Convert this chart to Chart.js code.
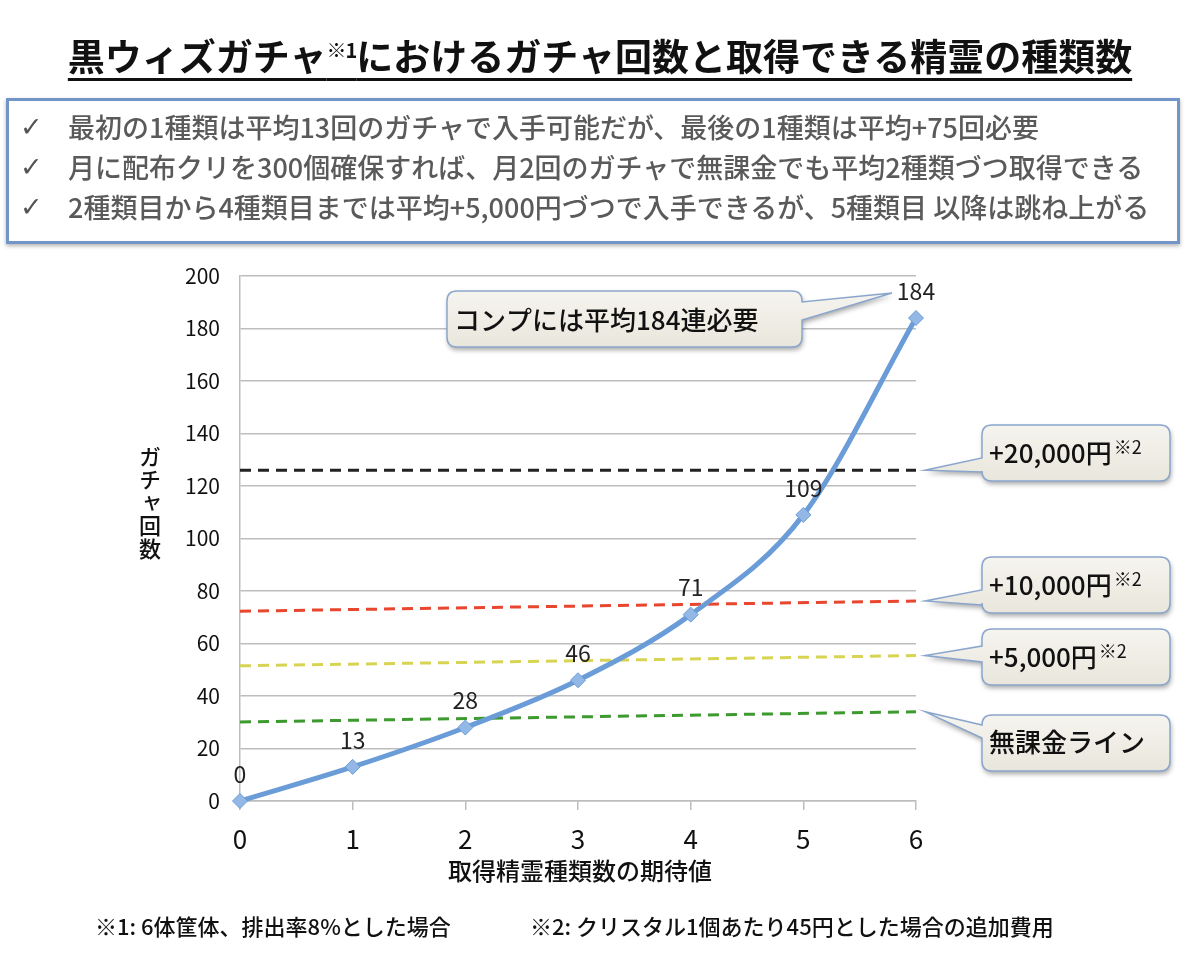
<!DOCTYPE html>
<html lang="ja">
<head>
<meta charset="utf-8">
<title>黒ウィズガチャ</title>
<script src="https://cdn.jsdelivr.net/npm/chart.js@4.4.1/dist/chart.umd.min.js"></script>
<style>
  html, body { margin: 0; padding: 0; background: #fff; }
  body {
    position: relative;
    width: 1200px;
    height: 966px;
    overflow: hidden;
    font-family: "Noto Sans CJK JP", "Noto Sans", sans-serif;
    color: #111;
  }
  #chart-wrap { position: absolute; left: 0; top: 0; width: 1200px; height: 966px; }
  .title {
    position: absolute;
    left: 0;
    top: 37px;
    width: 1200px;
    text-align: center;
    font-size: 37px;
    line-height: 37px;
    font-weight: 700;
    text-decoration: underline;
    text-decoration-thickness: 3px;
    text-underline-offset: 7px;
  }
  .title sup { font-size: 20px; vertical-align: 13px; line-height: 0; letter-spacing: -1px; }
  .summary {
    position: absolute;
    left: 6px;
    top: 98px;
    width: 1168px;
    height: 134px;
    border: 3px solid #7195c7;
    box-shadow: 0 2px 4px rgba(0, 0, 0, 0.3);
    padding-top: 6px;
    background: #fff;
  }
  .summary div {
    display: flex;
    height: 40px;
    line-height: 40px;
    font-size: 27px;
    font-weight: 500;
    color: #5a5a5a;
    white-space: nowrap;
  }
  .summary .check { width: 48px; padding-left: 11px; font-family: "DejaVu Sans", sans-serif; font-size: 27px; color: #555; }
  .axis-title-x {
    position: absolute;
    left: 380px;
    width: 400px;
    top: 857px;
    text-align: center;
    font-size: 24px;
    line-height: 26px;
    font-weight: 500;
  }
  .axis-title-y {
    position: absolute;
    left: 138px;
    top: 446px;
    writing-mode: vertical-rl;
    text-orientation: upright;
    font-size: 22px;
    line-height: 24px;
    font-weight: 500;
    letter-spacing: 1px;
  }
  .note { position: absolute; top: 913px; font-size: 22px; line-height: 24px; font-weight: 500; }
</style>
</head>
<body>
  <div id="chart-wrap"><canvas id="gacha-chart" width="1200" height="966"></canvas></div>

  <div class="title">黒ウィズガチャ<sup>※1</sup>におけるガチャ回数と取得できる精霊の種類数</div>

  <div class="summary">
    <div><span class="check">✓</span><span>最初の1種類は平均13回のガチャで入手可能だが、最後の1種類は平均+75回必要</span></div>
    <div><span class="check">✓</span><span>月に配布クリを300個確保すれば、月2回のガチャで無課金でも平均2種類づつ取得できる</span></div>
    <div><span class="check">✓</span><span>2種類目から4種類目までは平均+5,000円づつで入手できるが、5種類目 以降は跳ね上がる</span></div>
  </div>

  <div class="axis-title-y">ガチャ回数</div>
  <div class="axis-title-x">取得精霊種類数の期待値</div>

  <div class="note" style="left: 95px;">※1: 6体筐体、排出率8%とした場合</div>
  <div class="note" style="left: 530px;">※2: クリスタル1個あたり45円とした場合の追加費用</div>

<script>
const SPIRIT_COUNTS = [0, 1, 2, 3, 4, 5, 6];
const GACHA_COUNTS = [0, 13, 28, 46, 71, 109, 184];

// budget lines: value at x=0 and at x=6
const BUDGET_LABELS = ['+20,000円', '+10,000円', '+5,000円', '無課金ライン'];
const BUDGET_NOTE = ['※2', '※2', '※2', ''];
const BUDGET_START = [126, 72.3, 51.5, 30.1];
const BUDGET_END = [126, 76.2, 55.4, 34];
const BUDGET_COLORS = ['#222222', '#e8462e', '#d8d453', '#3d9a2e'];

const Y_MIN = 0;
const Y_MAX = 200;
const Y_STEP = 20;

const COMPLETE_TEXT = 'コンプには平均184連必要';

const FONT = '"Noto Sans CJK JP", "Noto Sans", sans-serif';
const GRID_COLOR = '#bdbdbd';

const mainData = SPIRIT_COUNTS.map((x, i) => ({ x, y: GACHA_COUNTS[i] }));
const lastX = SPIRIT_COUNTS[SPIRIT_COUNTS.length - 1];

const budgetDatasets = BUDGET_LABELS.map((label, i) => ({
  label,
  data: [
    { x: SPIRIT_COUNTS[0], y: BUDGET_START[i] },
    { x: lastX, y: BUDGET_END[i] },
  ],
  borderColor: BUDGET_COLORS[i],
  borderWidth: 3,
  borderDash: [11, 7],
  pointRadius: 0,
  tension: 0,
  order: 2,
}));

// callout boxes, the tip follows the line it points at
const budgetBoxes = [
  { x: 982, y: 425, w: 188, h: 56, w1: 33, w2: 47, ty: 28 },
  { x: 982, y: 557, w: 188, h: 56, w1: 33, w2: 48, ty: 28 },
  { x: 982, y: 629, w: 188, h: 56, w1: 17, w2: 33, ty: 28 },
  { x: 982, y: 715, w: 188, h: 56, w1: 10, w2: 23, ty: 27 },
];

function calloutPath(ctx, b, tip, side) {
  const r = 10;
  const { x, y, w, h } = b;
  ctx.beginPath();
  ctx.moveTo(x + r, y);
  ctx.lineTo(x + w - r, y);
  ctx.quadraticCurveTo(x + w, y, x + w, y + r);
  if (side === 'right') {
    ctx.lineTo(x + w, y + b.w1);
    ctx.lineTo(tip.x, tip.y);
    ctx.lineTo(x + w, y + b.w2);
  }
  ctx.lineTo(x + w, y + h - r);
  ctx.quadraticCurveTo(x + w, y + h, x + w - r, y + h);
  ctx.lineTo(x + r, y + h);
  ctx.quadraticCurveTo(x, y + h, x, y + h - r);
  if (side === 'left') {
    ctx.lineTo(x, y + b.w2);
    ctx.lineTo(tip.x, tip.y);
    ctx.lineTo(x, y + b.w1);
  }
  ctx.lineTo(x, y + r);
  ctx.quadraticCurveTo(x, y, x + r, y);
  ctx.closePath();
}

function drawCallout(ctx, b, tip, side) {
  const grad = ctx.createLinearGradient(0, b.y, 0, b.y + b.h);
  grad.addColorStop(0, '#f6f4ef');
  grad.addColorStop(1, '#e9e6dc');
  ctx.save();
  calloutPath(ctx, b, tip, side);
  ctx.shadowColor = 'rgba(0, 0, 0, 0.35)';
  ctx.shadowBlur = 5;
  ctx.shadowOffsetX = 1;
  ctx.shadowOffsetY = 3;
  ctx.fillStyle = grad;
  ctx.fill();
  ctx.shadowColor = 'transparent';
  ctx.strokeStyle = '#8aa6cd';
  ctx.lineWidth = 1.5;
  ctx.stroke();
  ctx.restore();
}

const pointLabelPlugin = {
  id: 'pointLabels',
  afterDraw(chart) {
    const { ctx } = chart;
    const meta = chart.getDatasetMeta(0);
    ctx.save();
    ctx.font = `23px ${FONT}`;
    ctx.fillStyle = '#222';
    ctx.textAlign = 'center';
    ctx.textBaseline = 'middle';
    meta.data.forEach((pt, i) => {
      ctx.fillText(String(GACHA_COUNTS[i]), pt.x, pt.y - 27);
    });
    ctx.restore();
  },
};

const calloutPlugin = {
  id: 'callouts',
  afterDatasetsDraw(chart) {
    const { ctx } = chart;
    const xs = chart.scales.x;
    const ys = chart.scales.y;
    const endX = xs.getPixelForValue(lastX);

    // top callout pointing at the final data label
    const lastY = ys.getPixelForValue(GACHA_COUNTS[GACHA_COUNTS.length - 1]);
    const topBox = { x: 447, y: 291, w: 355, h: 56, w1: 11, w2: 29 };
    drawCallout(ctx, topBox, { x: endX - 24, y: lastY - 25 }, 'right');
    ctx.save();
    ctx.font = `500 26px ${FONT}`;
    ctx.fillStyle = '#111';
    ctx.textBaseline = 'middle';
    ctx.fillText(COMPLETE_TEXT, 454, topBox.y + 29);
    ctx.restore();

    budgetBoxes.forEach((b, i) => {
      const tip = { x: endX + 9, y: ys.getPixelForValue(BUDGET_END[i]) };
      drawCallout(ctx, b, tip, 'left');
      ctx.save();
      ctx.fillStyle = '#111';
      ctx.textBaseline = 'middle';
      ctx.font = `500 26px ${FONT}`;
      ctx.fillText(BUDGET_LABELS[i], b.x + 7, b.y + b.ty);
      if (BUDGET_NOTE[i]) {
        const w = ctx.measureText(BUDGET_LABELS[i]).width;
        ctx.font = `18px ${FONT}`;
        ctx.fillText(BUDGET_NOTE[i], b.x + 9 + w, b.y + b.ty - 6);
      }
      ctx.restore();
    });
  },
};

new Chart(document.getElementById('gacha-chart'), {
  type: 'line',
  data: {
    datasets: [
      {
        label: 'ガチャ回数',
        data: mainData,
        borderColor: '#6a9cd8',
        borderWidth: 5,
        cubicInterpolationMode: 'monotone',
        pointStyle: 'rectRot',
        pointRadius: 7.5,
        pointBackgroundColor: '#93b8e6',
        pointBorderColor: '#6a9cd8',
        pointBorderWidth: 1,
        clip: false,
        order: 1,
      },
      ...budgetDatasets,
    ],
  },
  options: {
    responsive: false,
    animation: false,
    events: [],
    layout: { padding: { left: 130, top: 276, right: 284, bottom: 105 } },
    plugins: {
      legend: { display: false },
      tooltip: { enabled: false },
    },
    scales: {
      x: {
        type: 'linear',
        min: 0,
        max: 6,
        afterFit: (scale) => { scale.height = 60; },
        ticks: {
          stepSize: 1,
          padding: 14,
          color: '#111',
          font: { family: FONT, size: 26 },
        },
        grid: { drawOnChartArea: false, tickLength: 9, color: GRID_COLOR, lineWidth: 1.5 },
        border: { color: GRID_COLOR, width: 1.5 },
      },
      y: {
        min: Y_MIN,
        max: Y_MAX,
        afterFit: (scale) => { scale.width = 110; },
        ticks: {
          stepSize: Y_STEP,
          padding: 20,
          color: '#111',
          font: { family: FONT, size: 21 },
        },
        grid: { color: GRID_COLOR, lineWidth: 1.5, drawTicks: false },
        border: { color: GRID_COLOR, width: 1.5 },
      },
    },
  },
  plugins: [pointLabelPlugin, calloutPlugin],
});
</script>
</body>
</html>
